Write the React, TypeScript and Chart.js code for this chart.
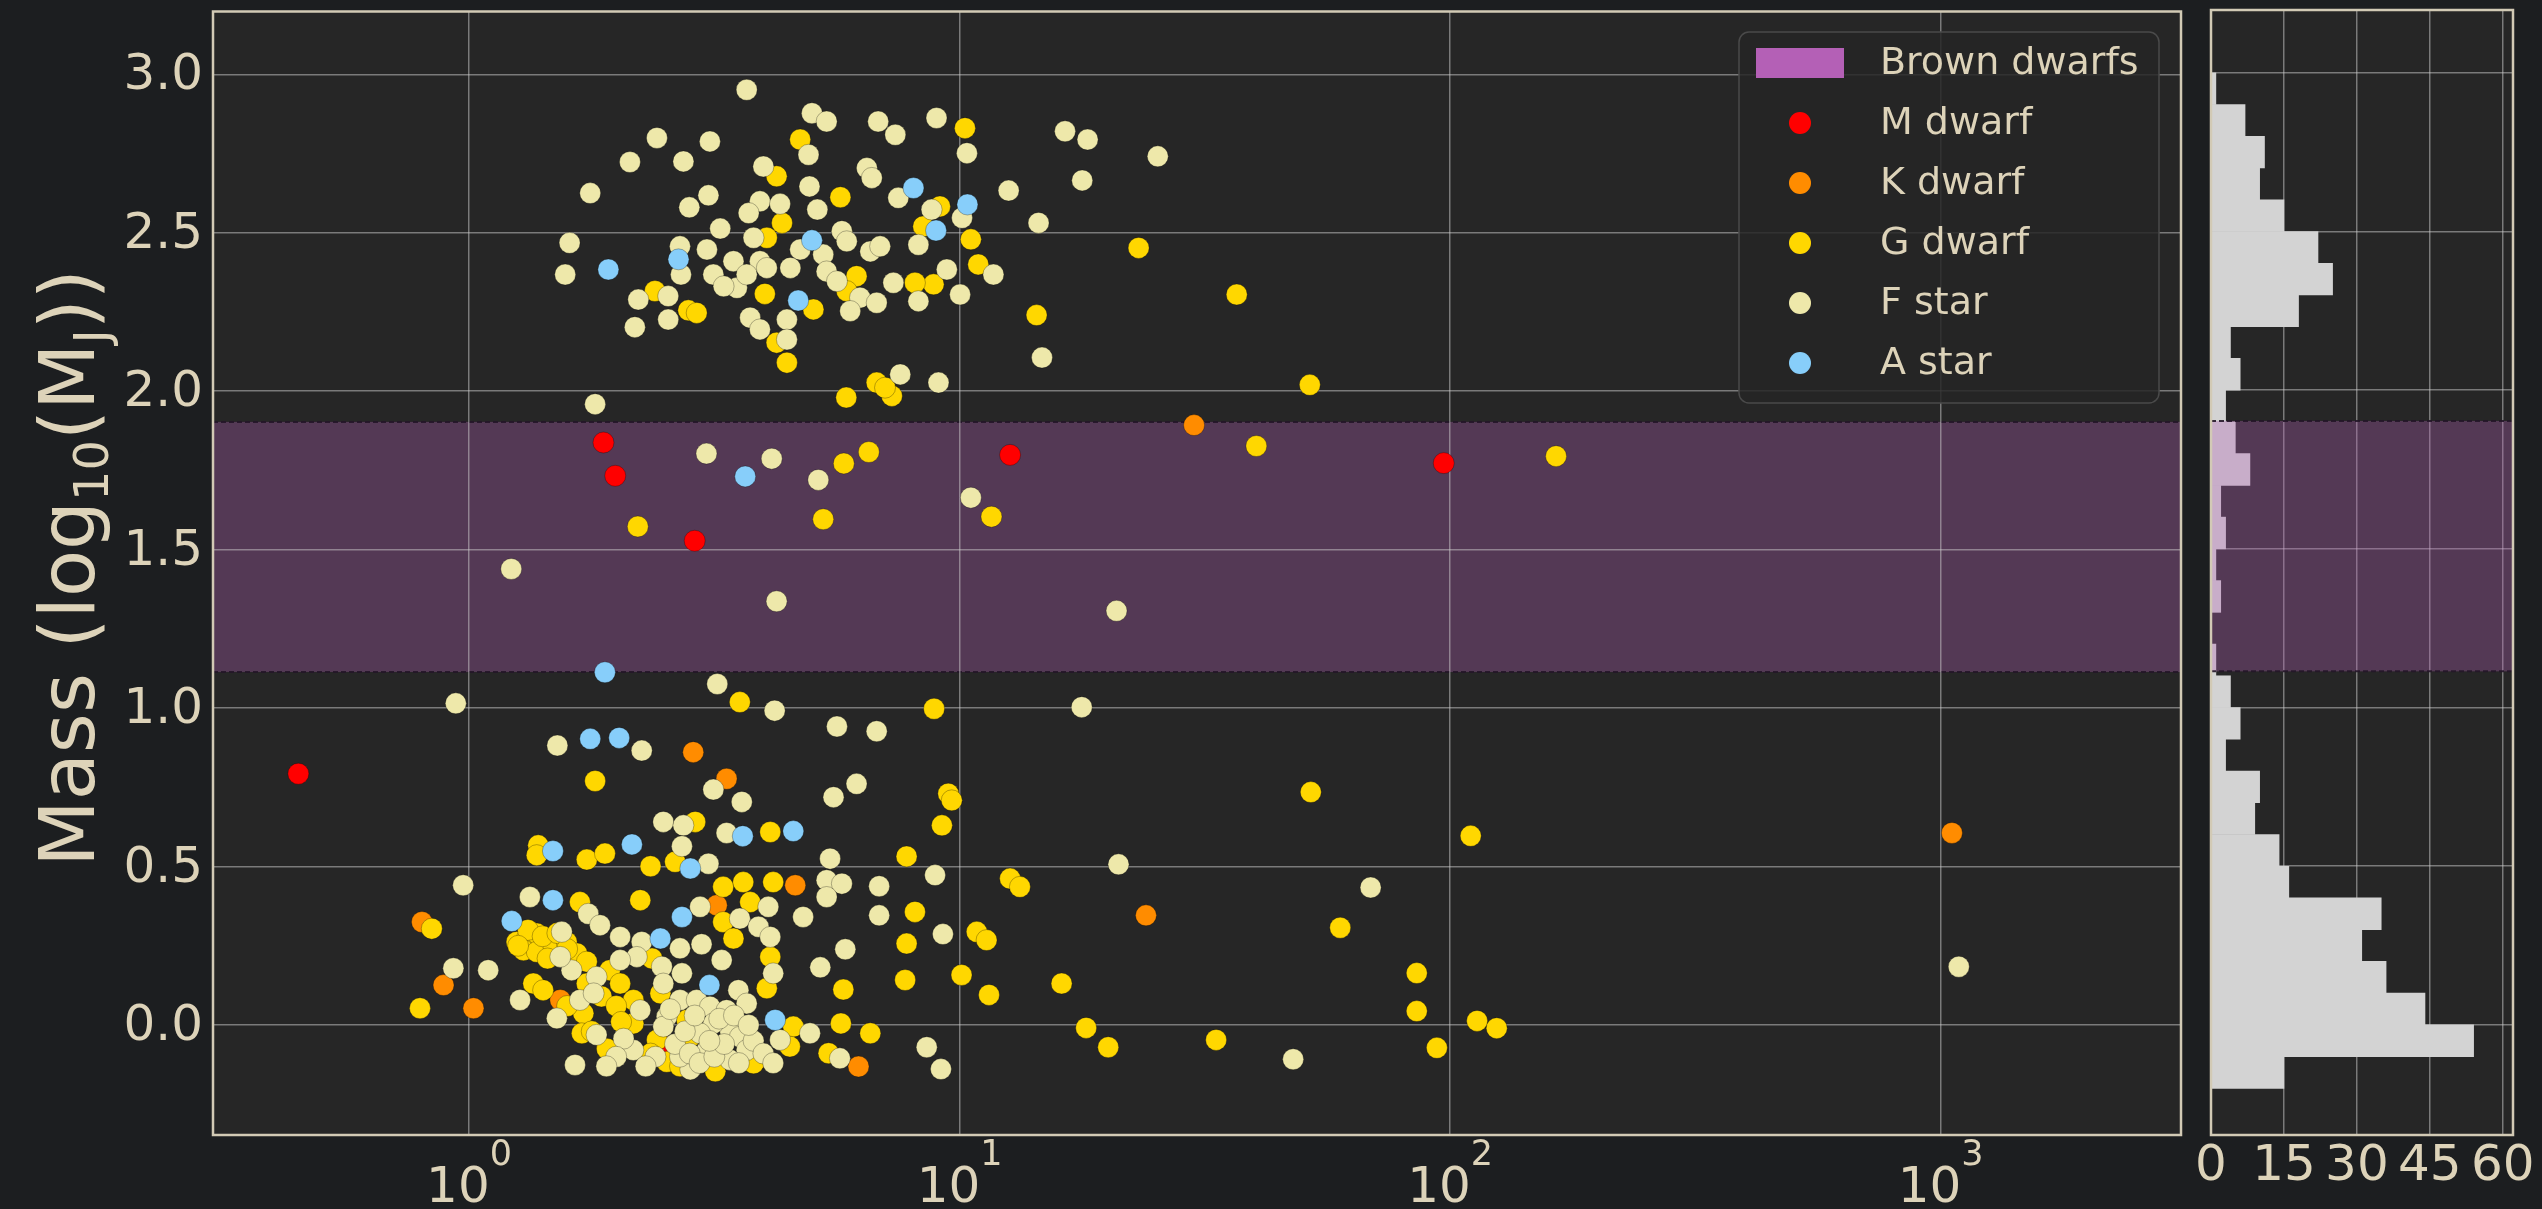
import React, { useEffect, useRef } from "react";
import { Chart, registerables } from "chart.js";

Chart.register(...registerables);

// ---------- data (x = log10 period, y = log10 mass in M_J) ----------
const M_DWARF: [number, number][] = [
  [-0.348, 0.793], [0.274, 1.838], [0.298, 1.733], [0.46, 1.528], [1.103, 1.799], [1.987, 1.773], [0.41, -0.068],
];

const K_DWARF: [number, number][] = [
  [1.478, 1.893], [3.023, 0.606], [1.38, 0.346], [0.457, 0.861], [0.525, 0.777], [0.505, 0.378], [0.665, 0.441],
  [-0.096, 0.325], [-0.052, 0.126], [0.009, 0.053], [0.186, 0.079], [0.59, -0.105], [0.794, -0.131],
];

const G_DWARF: [number, number][] = [
  [0.675, 2.794], [1.011, 2.83], [0.627, 2.678], [0.757, 2.612], [0.96, 2.583], [0.638, 2.531], [0.607, 2.484],
  [0.926, 2.52], [1.023, 2.479], [1.038, 2.4], [0.947, 2.337], [0.909, 2.342], [0.79, 2.363], [0.77, 2.316],
  [0.603, 2.307], [0.702, 2.258], [0.379, 2.316], [0.447, 2.255], [0.464, 2.247], [0.627, 2.153], [0.648, 2.09],
  [1.157, 2.24], [0.769, 1.98], [0.831, 2.027], [0.862, 1.985], [0.848, 2.011], [1.365, 2.452], [1.565, 2.305],
  [1.714, 2.02],
  [0.815, 1.808], [0.764, 1.772], [0.344, 1.573], [0.722, 1.596], [1.065, 1.604], [1.605, 1.827], [2.216, 1.795],
  [0.552, 1.019], [0.948, 0.998], [1.716, 0.735], [2.042, 0.597], [1.776, 0.307], [1.932, 0.164], [1.932, 0.044],
  [2.055, 0.013], [2.095, -0.01], [1.973, -0.072],
  [0.977, 0.73], [0.984, 0.709], [0.964, 0.63], [0.892, 0.532], [1.103, 0.462], [1.123, 0.436], [0.909, 0.357],
  [1.035, 0.294], [1.055, 0.268], [0.892, 0.257], [0.763, 0.112], [0.889, 0.142], [1.004, 0.158], [1.06, 0.095],
  [1.208, 0.131], [0.758, 0.005], [0.818, -0.026], [0.733, -0.089], [1.258, -0.009], [1.303, -0.07], [1.523, -0.047],
  [0.257, 0.77], [0.461, 0.641], [0.614, 0.609], [0.141, 0.567], [0.138, 0.536], [0.24, 0.522], [0.277, 0.541],
  [0.37, 0.501], [0.42, 0.515], [0.349, 0.394], [0.226, 0.388], [-0.076, 0.304], [0.518, 0.436], [0.559, 0.451],
  [0.62, 0.451], [0.573, 0.388], [0.518, 0.325], [0.539, 0.273], [0.097, 0.262], [0.118, 0.273], [0.138, 0.289],
  [0.158, 0.257], [0.111, 0.236], [0.138, 0.231], [0.172, 0.247], [0.199, 0.262], [0.22, 0.226], [0.614, 0.215],
  [0.607, 0.116], [0.373, 0.21], [0.287, 0.173], [0.308, 0.131], [0.24, 0.131], [0.131, 0.131], [0.151, 0.11],
  [0.233, 0.037], [0.335, 0.079], [0.39, 0.1], [0.444, 0.016], [0.661, -0.005], [0.451, -0.037], [0.58, -0.121],
  [0.502, -0.146], [0.403, -0.116], [0.383, -0.047], [0.335, 0.005], [0.281, -0.075], [0.23, -0.026], [-0.1, 0.053],
  [0.654, -0.068],
  [0.12, 0.3], [0.15, 0.28], [0.18, 0.29], [0.1, 0.25], [0.16, 0.21], [0.2, 0.24], [0.24, 0.2], [0.27, 0.09],
  [0.3, 0.06], [0.25, -0.02], [0.37, -0.09], [0.43, -0.13], [0.31, 0.01], [0.2, 0.06],
];

const F_STAR: [number, number][] = [
  [0.566, 2.951], [0.383, 2.799], [0.491, 2.788], [0.328, 2.723], [0.437, 2.725], [0.247, 2.625], [0.699, 2.877],
  [0.729, 2.851], [0.692, 2.746], [0.834, 2.851], [0.869, 2.809], [0.953, 2.862], [1.015, 2.751], [1.215, 2.82],
  [1.261, 2.794], [0.6, 2.709], [0.811, 2.704], [0.821, 2.673], [0.694, 2.646], [0.875, 2.61], [1.1, 2.633],
  [0.943, 2.573], [1.005, 2.547], [0.488, 2.618], [0.449, 2.58], [0.593, 2.599], [0.634, 2.591], [0.57, 2.562],
  [0.71, 2.573], [1.161, 2.531], [0.512, 2.513], [0.205, 2.468], [0.196, 2.368], [0.43, 2.457], [0.432, 2.368],
  [0.485, 2.447], [0.498, 2.368], [0.539, 2.41], [0.546, 2.326], [0.519, 2.331], [0.58, 2.484], [0.593, 2.41],
  [0.607, 2.389], [0.566, 2.368], [0.675, 2.447], [0.722, 2.431], [0.655, 2.389], [0.729, 2.378], [0.75, 2.347],
  [0.76, 2.505], [0.77, 2.473], [0.818, 2.441], [0.838, 2.457], [0.916, 2.462], [1.069, 2.368], [0.974, 2.384],
  [0.865, 2.342], [0.916, 2.284], [1.001, 2.305], [0.797, 2.295], [0.831, 2.279], [0.777, 2.253], [0.345, 2.289],
  [0.406, 2.3], [0.338, 2.202], [0.406, 2.226], [0.573, 2.232], [0.593, 2.195], [0.648, 2.226], [0.648, 2.163],
  [1.168, 2.106], [0.879, 2.053], [0.957, 2.027], [0.257, 1.959], [1.25, 2.665], [1.404, 2.741],
  [0.484, 1.803], [0.617, 1.787], [0.712, 1.72], [1.023, 1.664], [0.086, 1.439], [0.627, 1.337], [1.32, 1.307],
  [0.506, 1.076], [0.623, 0.992], [1.249, 1.003], [-0.027, 1.015], [1.838, 0.434], [3.037, 0.184], [1.68, -0.108],
  [0.75, 0.942], [0.831, 0.927], [0.79, 0.761], [0.743, 0.719], [0.736, 0.525], [0.95, 0.473], [1.324, 0.507],
  [0.729, 0.457], [0.76, 0.446], [0.729, 0.404], [0.836, 0.438], [0.681, 0.341], [0.836, 0.346], [0.966, 0.287],
  [0.767, 0.239], [0.716, 0.182], [0.695, -0.026], [0.756, -0.105], [0.933, -0.07], [0.962, -0.139],
  [0.18, 0.882], [0.352, 0.866], [0.498, 0.743], [0.556, 0.704], [0.396, 0.641], [0.437, 0.63], [0.525, 0.606],
  [0.434, 0.564], [0.488, 0.509], [-0.012, 0.441], [0.124, 0.404], [0.243, 0.351], [0.61, 0.373], [0.471, 0.373],
  [0.552, 0.336], [0.59, 0.31], [0.614, 0.278], [0.474, 0.255], [0.43, 0.242], [0.308, 0.278], [0.352, 0.262],
  [0.267, 0.315], [0.189, 0.294], [0.515, 0.205], [0.62, 0.163], [0.549, 0.11], [0.434, 0.163], [0.393, 0.184],
  [0.342, 0.215], [0.308, 0.205], [0.26, 0.152], [0.209, 0.173], [0.186, 0.215], [0.104, 0.079], [0.226, 0.079],
  [0.254, 0.1], [0.179, 0.021], [0.349, 0.047], [0.396, 0.131], [0.43, 0.079], [0.403, 0.026], [0.464, 0.079],
  [0.491, 0.058], [0.525, 0.047], [0.566, 0.068], [0.634, -0.047], [0.532, -0.016], [0.498, 0.005], [0.471, -0.026],
  [0.552, -0.037], [0.566, -0.079], [0.532, -0.11], [0.451, -0.14], [0.485, -0.079], [0.43, -0.1], [0.396, -0.005],
  [0.335, -0.079], [0.315, -0.043], [0.26, -0.031], [0.216, -0.126], [-0.032, 0.179], [0.039, 0.173],
  [0.42, -0.06], [0.45, -0.09], [0.47, -0.12], [0.5, -0.1], [0.52, -0.06], [0.55, -0.12], [0.58, -0.05],
  [0.6, -0.09], [0.44, -0.02], [0.49, -0.05], [0.51, 0.02], [0.54, 0.03], [0.57, 0.0], [0.46, 0.03], [0.41, 0.05],
  [0.38, -0.1], [0.36, -0.13], [0.3, -0.1], [0.62, -0.12], [0.28, -0.13],
];

const A_STAR: [number, number][] = [
  [0.906, 2.641], [1.016, 2.589], [0.284, 2.384], [0.427, 2.416], [0.699, 2.476], [0.952, 2.507], [0.671, 2.286],
  [0.563, 1.731], [0.277, 1.113], [0.247, 0.903], [0.306, 0.906], [0.558, 0.596], [0.661, 0.612], [0.171, 0.549],
  [0.332, 0.57], [0.451, 0.494], [0.171, 0.394], [0.087, 0.328], [0.434, 0.341], [0.39, 0.273], [0.49, 0.126],
  [0.624, 0.016],
];

// histogram of log10 mass (bin centres, counts)
const HIST_BIN_CENTERS = [
  -0.15, -0.05, 0.05, 0.15, 0.25, 0.35, 0.45, 0.55, 0.65, 0.75, 0.85, 0.95, 1.05, 1.15, 1.25, 1.35,
  1.45, 1.55, 1.65, 1.75, 1.85, 1.95, 2.05, 2.15, 2.25, 2.35, 2.45, 2.55, 2.65, 2.75, 2.85, 2.95,
];
const HIST_COUNTS = [
  15, 54, 44, 36, 31, 35, 16, 14, 9, 10, 3, 6, 4, 1, 0, 2,
  1, 3, 2, 8, 5, 3, 6, 4, 18, 25, 22, 15, 10, 11, 7, 1,
];

const BROWN_DWARF_BAND = [1.114, 1.903]; // log10(13), log10(80)
const X_TICK_EXPONENTS = [0, 1, 2, 3];
const Y_TICKS = [0, 0.5, 1, 1.5, 2, 2.5, 3];
const HIST_TICKS = [0, 15, 30, 45, 60];
const X_RANGE = [-0.522, 3.49];
const Y_RANGE = [-0.347, 3.198];
const HIST_RANGE = [0, 62.1];

const SERIES = [
  { label: "M dwarf", points: M_DWARF, color: "#ff0000", order: 5 },
  { label: "K dwarf", points: K_DWARF, color: "#ff8c00", order: 4 },
  { label: "G dwarf", points: G_DWARF, color: "#ffd700", order: 3 },
  { label: "F star", points: F_STAR, color: "#eee8aa", order: 2 },
  { label: "A star", points: A_STAR, color: "#87cefa", order: 1 },
];

// ---------- styles ----------
const FONT = '"DejaVu Sans", "Liberation Sans", sans-serif';
const FIG_BG = "#1c1e20";
const PLOT_BG = "#262626";
const GRID = "rgba(205,205,205,0.5)";
const SPINE = "#d2cab5";
const TEXT = "#ddd3b9";
const BAND_SOLID = "#b460b6";
const BAND_FILL = "rgba(180,96,182,0.33)";
const BAND_EDGE = "rgba(35,22,40,0.9)";
const HIST_BAR = "#d3d3d3";

const MAIN_W = 2195;
const HIST_W = 347;
const H = 1209;

function drawBandEdges(ctx: CanvasRenderingContext2D, left: number, right: number, yTop: number, yBot: number) {
  ctx.save();
  ctx.strokeStyle = BAND_EDGE;
  ctx.lineWidth = 2;
  ctx.setLineDash([5, 3]);
  ctx.beginPath();
  ctx.moveTo(left, yTop);
  ctx.lineTo(right, yTop);
  ctx.moveTo(left, yBot);
  ctx.lineTo(right, yBot);
  ctx.stroke();
  ctx.restore();
}

function drawSpines(ctx: CanvasRenderingContext2D, a: any) {
  ctx.save();
  ctx.strokeStyle = SPINE;
  ctx.lineWidth = 2.5;
  ctx.strokeRect(a.left, a.top, a.right - a.left, a.bottom - a.top);
  ctx.restore();
}

const mainDecor = {
  id: "mainDecor",
  beforeDraw(chart: any) {
    const { ctx, chartArea: a, scales } = chart;
    ctx.save();
    ctx.fillStyle = PLOT_BG;
    ctx.fillRect(a.left, a.top, a.right - a.left, a.bottom - a.top);
    const yTop = scales.y.getPixelForValue(BROWN_DWARF_BAND[1]);
    const yBot = scales.y.getPixelForValue(BROWN_DWARF_BAND[0]);
    ctx.fillStyle = BAND_FILL;
    ctx.fillRect(a.left, yTop, a.right - a.left, yBot - yTop);
    ctx.restore();
    drawBandEdges(ctx, a.left, a.right, yTop, yBot);
  },
  afterDraw(chart: any) {
    const { ctx, chartArea: a, scales } = chart;
    drawSpines(ctx, a);
    ctx.save();
    ctx.fillStyle = TEXT;
    // y tick labels
    ctx.font = `50px ${FONT}`;
    ctx.textAlign = "right";
    ctx.textBaseline = "middle";
    for (const v of Y_TICKS) {
      ctx.fillText(v.toFixed(1), a.left - 10, scales.y.getPixelForValue(v) + 2);
    }
    // x tick labels 10^n
    ctx.textAlign = "left";
    ctx.textBaseline = "alphabetic";
    for (const e of X_TICK_EXPONENTS) {
      const px = scales.x.getPixelForValue(e);
      ctx.font = `50px ${FONT}`;
      const wb = ctx.measureText("10").width;
      ctx.font = `35px ${FONT}`;
      const ws = ctx.measureText(String(e)).width;
      const start = px - (wb + ws) / 2;
      ctx.font = `50px ${FONT}`;
      ctx.fillText("10", start, a.bottom + 67);
      ctx.font = `35px ${FONT}`;
      ctx.fillText(String(e), start + wb, a.bottom + 30);
    }
    // y axis title: Mass (log10(MJ))
    const big = 77;
    const small = 48;
    const parts = [
      { t: "Mass (log", s: big, dy: 0 },
      { t: "10", s: small, dy: 14 },
      { t: "(M", s: big, dy: 0 },
      { t: "J", s: small, dy: 14 },
      { t: "))", s: big, dy: 0 },
    ];
    let total = 0;
    const widths = parts.map((p) => {
      ctx.font = `${p.s}px ${FONT}`;
      const w = ctx.measureText(p.t).width;
      total += w;
      return w;
    });
    ctx.save();
    ctx.translate(94, 568);
    ctx.rotate(-Math.PI / 2);
    let x = -total / 2;
    parts.forEach((p, i) => {
      ctx.font = `${p.s}px ${FONT}`;
      ctx.fillText(p.t, x, p.dy);
      x += widths[i];
    });
    ctx.restore();

    // legend
    const bx = 1739, by = 32, bw = 420, bh = 371;
    ctx.beginPath();
    if ((ctx as any).roundRect) (ctx as any).roundRect(bx, by, bw, bh, 10);
    else ctx.rect(bx, by, bw, bh);
    ctx.fillStyle = "rgba(38,38,38,0.85)";
    ctx.fill();
    ctx.strokeStyle = "#4a4a4a";
    ctx.lineWidth = 1.5;
    ctx.stroke();
    const rowY0 = 63;
    const rowStep = 60;
    ctx.fillStyle = BAND_SOLID;
    ctx.fillRect(1756, rowY0 - 15, 88, 30);
    ctx.font = `38px ${FONT}`;
    ctx.textBaseline = "middle";
    ctx.textAlign = "left";
    ctx.fillStyle = TEXT;
    ctx.fillText("Brown dwarfs", 1880, rowY0 + 1);
    SERIES.forEach((s, i) => {
      const y = rowY0 + rowStep * (i + 1);
      ctx.beginPath();
      ctx.arc(1800, y, 11, 0, Math.PI * 2);
      ctx.fillStyle = s.color;
      ctx.fill();
      ctx.fillStyle = TEXT;
      ctx.fillText(s.label, 1880, y + 1);
    });
    ctx.restore();
  },
};

const histDecor = {
  id: "histDecor",
  beforeDraw(chart: any) {
    const { ctx, chartArea: a } = chart;
    ctx.save();
    ctx.fillStyle = PLOT_BG;
    ctx.fillRect(a.left, a.top, a.right - a.left, a.bottom - a.top);
    ctx.restore();
  },
  afterDatasetsDraw(chart: any) {
    const { ctx, chartArea: a, scales } = chart;
    const yTop = scales.y.getPixelForValue(BROWN_DWARF_BAND[1]);
    const yBot = scales.y.getPixelForValue(BROWN_DWARF_BAND[0]);
    ctx.save();
    ctx.fillStyle = BAND_FILL;
    ctx.fillRect(a.left, yTop, a.right - a.left, yBot - yTop);
    ctx.restore();
    drawBandEdges(ctx, a.left, a.right, yTop, yBot);
  },
  afterDraw(chart: any) {
    const { ctx, chartArea: a, scales } = chart;
    drawSpines(ctx, a);
    ctx.save();
    ctx.fillStyle = TEXT;
    ctx.font = `50px ${FONT}`;
    ctx.textAlign = "center";
    ctx.textBaseline = "alphabetic";
    for (const v of HIST_TICKS) {
      ctx.fillText(String(v), scales.x.getPixelForValue(v), a.bottom + 45);
    }
    ctx.restore();
  },
};

const gridOpts = { color: GRID, lineWidth: 1.5, drawTicks: false };

export default function App() {
  const mainRef = useRef<HTMLCanvasElement>(null);
  const histRef = useRef<HTMLCanvasElement>(null);

  useEffect(() => {
    const mainChart = new Chart(mainRef.current as HTMLCanvasElement, {
      type: "scatter",
      data: {
        datasets: SERIES.map((s) => ({
          label: s.label,
          data: s.points.map(([x, y]) => ({ x, y })),
          backgroundColor: s.color,
          borderColor: "rgba(0,0,0,0.28)",
          borderWidth: 1,
          pointRadius: 10.5,
          pointHoverRadius: 10.5,
          order: s.order,
        })),
      },
      options: {
        animation: false,
        responsive: false,
        devicePixelRatio: 1,
        events: [],
        layout: { padding: { left: 0, top: 10, right: 14, bottom: 0 } },
        plugins: { legend: { display: false }, tooltip: { enabled: false } },
        scales: {
          x: {
            type: "linear",
            min: X_RANGE[0],
            max: X_RANGE[1],
            ticks: { display: false },
            grid: gridOpts,
            border: { display: false },
            afterBuildTicks: (s: any) => {
              s.ticks = X_TICK_EXPONENTS.map((v) => ({ value: v }));
            },
            afterFit: (s: any) => {
              s.height = 74;
            },
          },
          y: {
            type: "linear",
            min: Y_RANGE[0],
            max: Y_RANGE[1],
            ticks: { display: false },
            grid: gridOpts,
            border: { display: false },
            afterBuildTicks: (s: any) => {
              s.ticks = Y_TICKS.map((v) => ({ value: v }));
            },
            afterFit: (s: any) => {
              s.width = 213;
            },
          },
        },
      } as any,
      plugins: [mainDecor],
    });

    const histChart = new Chart(histRef.current as HTMLCanvasElement, {
      type: "bar",
      data: {
        datasets: [
          {
            label: "count",
            data: HIST_BIN_CENTERS.map((c, i) => ({ x: HIST_COUNTS[i], y: c })),
            backgroundColor: HIST_BAR,
            borderWidth: 0,
            barPercentage: 1,
            categoryPercentage: 1,
          },
        ],
      },
      options: {
        indexAxis: "y",
        animation: false,
        responsive: false,
        devicePixelRatio: 1,
        events: [],
        layout: { padding: { left: 0, top: 10, right: 29, bottom: 0 } },
        plugins: { legend: { display: false }, tooltip: { enabled: false } },
        scales: {
          x: {
            type: "linear",
            min: HIST_RANGE[0],
            max: HIST_RANGE[1],
            ticks: { display: false },
            grid: gridOpts,
            border: { display: false },
            afterBuildTicks: (s: any) => {
              s.ticks = HIST_TICKS.map((v) => ({ value: v }));
            },
            afterFit: (s: any) => {
              s.height = 74;
            },
          },
          y: {
            type: "linear",
            min: Y_RANGE[0],
            max: Y_RANGE[1],
            offset: false,
            ticks: { display: false },
            grid: { ...gridOpts, offset: false },
            border: { display: false },
            afterBuildTicks: (s: any) => {
              s.ticks = Y_TICKS.map((v) => ({ value: v }));
            },
            afterFit: (s: any) => {
              s.width = 16;
            },
          },
        },
      } as any,
      plugins: [histDecor],
    });

    return () => {
      mainChart.destroy();
      histChart.destroy();
    };
  }, []);

  return (
    <div
      style={{
        position: "fixed",
        left: 0,
        top: 0,
        width: 2542,
        height: H,
        background: FIG_BG,
        overflow: "hidden",
      }}
    >
      <canvas
        ref={mainRef}
        width={MAIN_W}
        height={H}
        style={{ position: "absolute", left: 0, top: 0, width: MAIN_W, height: H }}
      />
      <canvas
        ref={histRef}
        width={HIST_W}
        height={H}
        style={{ position: "absolute", left: MAIN_W, top: 0, width: HIST_W, height: H }}
      />
    </div>
  );
}
